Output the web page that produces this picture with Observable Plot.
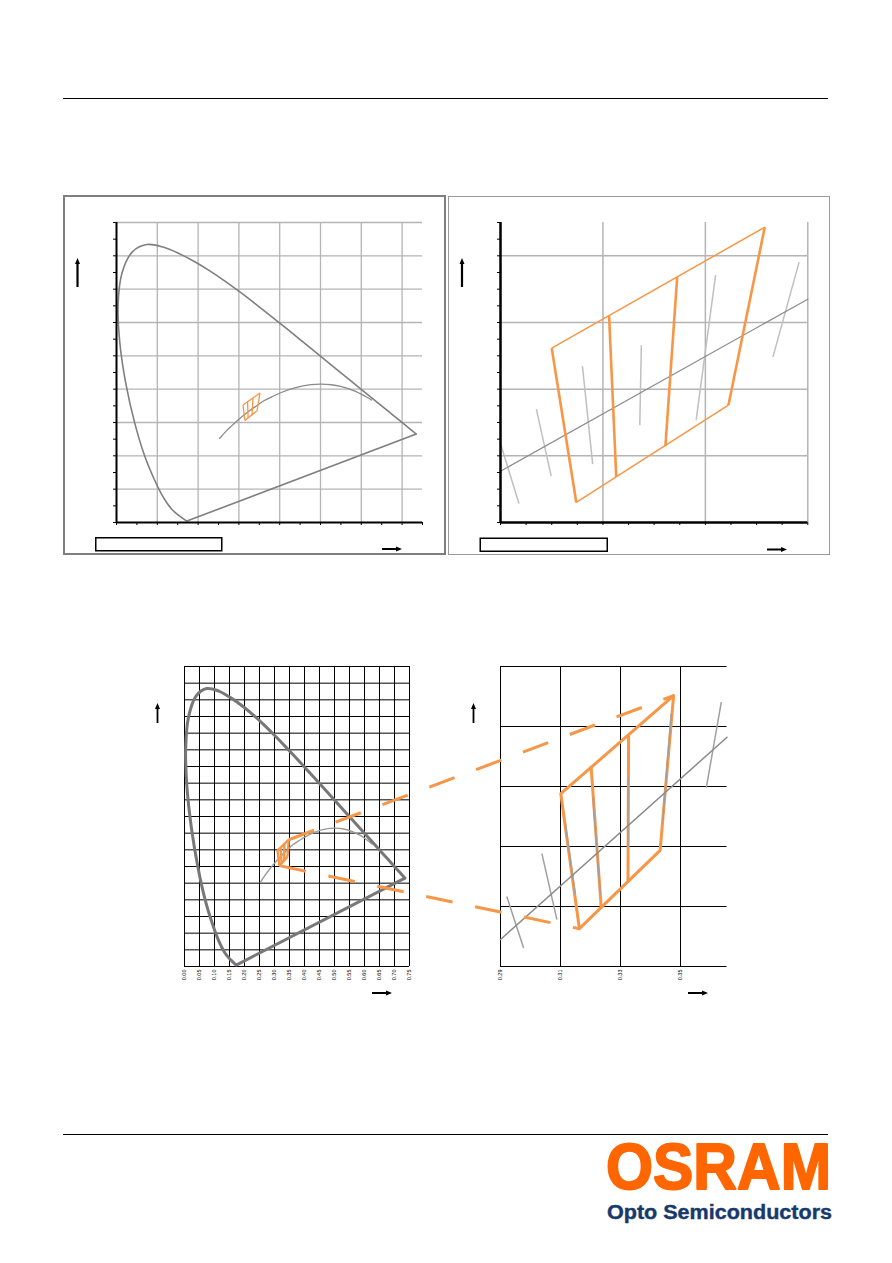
<!DOCTYPE html>
<html><head><meta charset="utf-8">
<script src="https://cdn.jsdelivr.net/npm/d3@7"></script>
<script src="https://cdn.jsdelivr.net/npm/@observablehq/plot@0.6"></script>
<style>
html,body{margin:0;padding:0;background:#fff;}
#page{position:relative;width:892px;height:1263px;overflow:hidden;background:#fff;font-family:"Liberation Sans",Arial,sans-serif;}
#page svg{overflow:visible;}
</style></head><body><div id="page"></div>
<script>
// ---------- DATA ----------
// CIE 1931 spectral locus, 380 ... 700 nm
const locusX = [0.1741,0.1733,0.1714,0.1689,0.1644,0.1566,0.1510,0.1440,0.1355,0.1241,0.1096,0.0913,0.0687,0.0454,0.0235,0.0082,0.0039,0.0139,0.0389,0.0743,0.1142,0.1547,0.1929,0.2296,0.2658,0.3016,0.3373,0.3731,0.4087,0.4441,0.4788,0.5125,0.5448,0.5752,0.6029,0.6270,0.6482,0.6658,0.6915,0.7079,0.7190,0.7260,0.7300,0.7334,0.7347];
const locusY = [0.0050,0.0048,0.0051,0.0069,0.0109,0.0177,0.0227,0.0297,0.0399,0.0578,0.0868,0.1327,0.2007,0.2950,0.4127,0.5384,0.6548,0.7502,0.8120,0.8338,0.8262,0.8059,0.7816,0.7543,0.7243,0.6923,0.6589,0.6245,0.5896,0.5547,0.5202,0.4866,0.4544,0.4242,0.3965,0.3725,0.3514,0.3340,0.3083,0.2920,0.2809,0.2740,0.2700,0.2666,0.2653];
// Planckian locus 25000 K ... 1200 K
const planckX = [0.2526,0.2565,0.2637,0.2719,0.2807,0.2952,0.3064,0.3221,0.3451,0.3611,0.3805,0.4053,0.4369,0.4770,0.5020,0.5267,0.5497,0.5729,0.5857,0.5985,0.6117,0.6251];
const planckY = [0.2522,0.2574,0.2673,0.2779,0.2883,0.3048,0.3166,0.3318,0.3516,0.3651,0.3768,0.3907,0.4041,0.4137,0.4152,0.4133,0.4081,0.3993,0.3931,0.3858,0.3773,0.3674];

// Top detail: colour bins (corners TL, TR, BR, BL) and dividers (top -> bottom)
const binTopCornerX = [0.3100,0.3516,0.3445,0.3148];
const binTopCornerY = [0.3523,0.3886,0.3352,0.3060];
const binTopDivX1 = [0.3212,0.3345], binTopDivY1 = [0.3620,0.3736];
const binTopDivX2 = [0.3226,0.3322], binTopDivY2 = [0.3137,0.3229];
const planckTopX = [0.30,0.36], planckTopY = [0.3154,0.3670];
const isoTopX1 = [0.3000,0.3070,0.3160,0.3275,0.3420,0.3583];
const isoTopY1 = [0.3237,0.3340,0.3469,0.3532,0.3742,0.3781];
const isoTopX2 = [0.3036,0.3099,0.3180,0.3272,0.3382,0.3532];
const isoTopY2 = [0.3057,0.3139,0.3175,0.3292,0.3307,0.3497];

// Bottom detail: colour bins
const binBotCornerX = [0.3101,0.3477,0.3432,0.3163];
const binBotCornerY = [0.3476,0.3803,0.3287,0.3026];
const binBotDivX1 = [0.3202,0.3327], binBotDivY1 = [0.3567,0.3670];
const binBotDivX2 = [0.3236,0.3325], binBotDivY2 = [0.3094,0.3181];
const planckBotX = [0.29,0.3655], planckBotY = [0.2990,0.3664];
const isoBotX1 = [0.2921,0.3038,0.3116,0.3208,0.3325,0.3469,0.3636];
const isoBotY1 = [0.3133,0.3276,0.3376,0.3464,0.3531,0.3742,0.3781];
const isoBotX2 = [0.2977,0.3088,0.3149,0.3233,0.3325,0.3441,0.3586];
const isoBotY2 = [0.2962,0.3056,0.3142,0.3142,0.3298,0.3387,0.3496];

// ticks / grids
const ticks1X = [0,0.05,0.1,0.15,0.2,0.25,0.3,0.35,0.4,0.45,0.5,0.55,0.6,0.65,0.7,0.75];
const ticks1Y = [0,0.05,0.1,0.15,0.2,0.25,0.3,0.35,0.4,0.45,0.5,0.55,0.6,0.65,0.7,0.75,0.8,0.85,0.9];
const grid1X = [0.1,0.2,0.3,0.4,0.5,0.6,0.7];
const grid1Y = [0.1,0.2,0.3,0.4,0.5,0.6,0.7,0.8,0.9];
const ticks2X = [0.300,0.305,0.310,0.315,0.320,0.325,0.330,0.335,0.340,0.345,0.350,0.355,0.360];
const ticks2Y = [0.300,0.305,0.310,0.315,0.320,0.325,0.330,0.335,0.340,0.345,0.350,0.355,0.360,0.365,0.370,0.375,0.380,0.385,0.390];
const grid2X = [0.32,0.34,0.36];
const grid2Y = [0.32,0.34,0.36,0.38];
const ticks3X = ticks1X;
const labels3X = ["0.00","0.05","0.10","0.15","0.20","0.25","0.30","0.35","0.40","0.45","0.50","0.55","0.60","0.65","0.70","0.75"];
const grid3Y = ticks1Y;
const ticks4X = [0.29,0.31,0.33,0.35];
const labels4X = ["0.29","0.31","0.33","0.35"];
const grid4Y = [0.29,0.31,0.33,0.35,0.37,0.39];

// ---------- HELPERS ----------
const ORANGE = "#f79646";
const page = document.getElementById("page");
const zip = (xs, ys) => xs.map((x, i) => ({x, y: ys[i]}));
const segs = (x1, y1, x2, y2) => x1.map((v, i) => ({x1: v, y1: y1[i], x2: x2[i], y2: y2[i]}));
function binParts(cx, cy, dx1, dy1, dx2, dy2) {
  const steep = [
    {x1: cx[0], y1: cy[0], x2: cx[3], y2: cy[3]},
    {x1: cx[1], y1: cy[1], x2: cx[2], y2: cy[2]},
    ...segs(dx1, dy1, dx2, dy2)
  ];
  const flat = [
    {x1: cx[0], y1: cy[0], x2: cx[1], y2: cy[1]},
    {x1: cx[3], y1: cy[3], x2: cx[2], y2: cy[2]}
  ];
  return {steep, flat, outline: zip([...cx, cx[0]], [...cy, cy[0]])};
}
function place(el, left, top) {
  const d = document.createElement("div");
  d.style.position = "absolute"; d.style.left = left + "px"; d.style.top = top + "px";
  d.appendChild(el); page.appendChild(d);
}
const locus = zip(locusX, locusY);
const purple = [{x1: locusX[0], y1: locusY[0], x2: locusX[locusX.length-1], y2: locusY[locusY.length-1]}];
const planck = zip(planckX, planckY);
const binsTop = binParts(binTopCornerX, binTopCornerY, binTopDivX1, binTopDivY1, binTopDivX2, binTopDivY2);
const binsBot = binParts(binBotCornerX, binBotCornerY, binBotDivX1, binBotDivY1, binBotDivX2, binBotDivY2);
const noLabel = () => "";

// ---------- DECORATION ----------
function upArrow(x, yb, yt, w) {
  return `<line x1="${x}" y1="${yb}" x2="${x}" y2="${yt+5}" stroke="#000" stroke-width="${w}"/>
  <polygon points="${x-2.5},${yt+6} ${x+2.5},${yt+6} ${x},${yt}" fill="#000"/>`;
}
function rightArrow(xl, xr, y, w) {
  return `<line x1="${xl}" y1="${y}" x2="${xr-5}" y2="${y}" stroke="#000" stroke-width="${w}"/>
  <polygon points="${xr-6},${y-2.5} ${xr-6},${y+2.5} ${xr},${y}" fill="#000"/>`;
}
const deco = document.createElementNS("http://www.w3.org/2000/svg", "svg");
deco.setAttribute("width", 892); deco.setAttribute("height", 1263);
deco.style.position = "absolute"; deco.style.left = "0"; deco.style.top = "0";
deco.innerHTML = `
<line x1="63" y1="98.5" x2="828" y2="98.5" stroke="#000" stroke-width="1"/>
<line x1="63" y1="1134.5" x2="828" y2="1134.5" stroke="#000" stroke-width="1"/>
<rect x="64" y="196" width="381" height="358" fill="none" stroke="#7f7f7f" stroke-width="2"/>
<rect x="448.5" y="196.5" width="381" height="358" fill="none" stroke="#9a9a9a" stroke-width="1"/>
<rect x="95.75" y="537.75" width="126" height="13" fill="none" stroke="#000" stroke-width="1.5"/>
<rect x="480.25" y="538.25" width="127" height="13" fill="none" stroke="#000" stroke-width="1.5"/>
${upArrow(77.5, 287, 258, 2.2)}
${rightArrow(382, 402, 549, 2)}
${upArrow(462, 287, 258, 2.2)}
${rightArrow(767, 787, 549.5, 2)}
${upArrow(157.5, 723, 703, 1.8)}
${rightArrow(372, 392, 993, 2)}
${upArrow(473.5, 723, 703, 1.8)}
${rightArrow(688, 708, 993, 2)}
<text x="606" y="1188.5" font-family="Liberation Sans, Arial, sans-serif" font-weight="bold" font-size="65" fill="#ff6600" stroke="#ff6600" stroke-width="2" stroke-linejoin="round" textLength="225" lengthAdjust="spacingAndGlyphs">OSRAM</text>
<text x="607" y="1219" font-family="Liberation Sans, Arial, sans-serif" font-weight="bold" font-size="20" fill="#17396b" stroke="#17396b" stroke-width="0.4" textLength="225" lengthAdjust="spacingAndGlyphs">Opto Semiconductors</text>
`;
page.appendChild(deco);

// ---------- CHART 1: full CIE diagram (top left) ----------
const c1 = Plot.plot({
  width: 336, height: 320, marginLeft: 20, marginRight: 10, marginTop: 10, marginBottom: 10,
  style: {background: "transparent", overflow: "visible"},
  x: {domain: [0, 0.75], ticks: ticks1X, tickSize: 3, tickFormat: noLabel, label: null},
  y: {domain: [0, 0.9], ticks: ticks1Y, tickSize: 3, tickFormat: noLabel, label: null},
  marks: [
    Plot.ruleX(grid1X, {y1: 0, y2: 0.9, stroke: "#b4b4b4", strokeWidth: 1.3}),
    Plot.ruleY(grid1Y, {x1: 0, x2: 0.75, stroke: "#b4b4b4", strokeWidth: 1.3}),
    Plot.line(locus, {x: "x", y: "y", stroke: "#7f7f7f", strokeWidth: 1.6, curve: "catmull-rom"}),
    Plot.link(purple, {x1: "x1", y1: "y1", x2: "x2", y2: "y2", stroke: "#7f7f7f", strokeWidth: 1.6}),
    Plot.line(planck, {x: "x", y: "y", stroke: "#8a8a8a", strokeWidth: 1.3, curve: "catmull-rom"}),
    Plot.link(binsTop.steep, {x1: "x1", y1: "y1", x2: "x2", y2: "y2", stroke: ORANGE, strokeWidth: 1.3}),
    Plot.link(binsTop.flat, {x1: "x1", y1: "y1", x2: "x2", y2: "y2", stroke: ORANGE, strokeWidth: 1.3}),
    Plot.ruleX([0], {y1: 0, y2: 0.9, stroke: "#000", strokeWidth: 2}),
    Plot.ruleY([0], {x1: 0, x2: 0.75, stroke: "#000", strokeWidth: 2})
  ]
});
place(c1, 96, 211.7);

// ---------- CHART 2: detail (top right) ----------
const c2 = Plot.plot({
  width: 337.3, height: 320, marginLeft: 20, marginRight: 10, marginTop: 10, marginBottom: 10,
  style: {background: "transparent", overflow: "visible"},
  x: {domain: [0.30, 0.36], ticks: ticks2X, tickSize: 3, tickFormat: noLabel, label: null},
  y: {domain: [0.30, 0.39], ticks: ticks2Y, tickSize: 3, tickFormat: noLabel, label: null},
  marks: [
    Plot.ruleX(grid2X, {y1: 0.30, y2: 0.39, stroke: "#b4b4b4", strokeWidth: 1.5}),
    Plot.ruleY(grid2Y, {x1: 0.30, x2: 0.36, stroke: "#b4b4b4", strokeWidth: 1.5}),
    Plot.link(segs(isoTopX1, isoTopY1, isoTopX2, isoTopY2), {x1: "x1", y1: "y1", x2: "x2", y2: "y2", stroke: "#c0c0c0", strokeWidth: 1.5}),
    Plot.line(zip(planckTopX, planckTopY), {x: "x", y: "y", stroke: "#8c8c8c", strokeWidth: 1.2}),
    Plot.link(binsTop.flat, {x1: "x1", y1: "y1", x2: "x2", y2: "y2", stroke: ORANGE, strokeWidth: 1.5}),
    Plot.link(binsTop.steep, {x1: "x1", y1: "y1", x2: "x2", y2: "y2", stroke: ORANGE, strokeWidth: 2.6}),
    Plot.ruleX([0.30], {y1: 0.30, y2: 0.39, stroke: "#000", strokeWidth: 2.5}),
    Plot.ruleY([0.30], {x1: 0.30, x2: 0.36, stroke: "#000", strokeWidth: 2.5})
  ]
});
place(c2, 480, 212.3);

// ---------- CHART 3: full diagram (bottom left) ----------
const L3 = 164.3, T3 = 656, L4 = 480.3, T4 = 656;
const c3 = Plot.plot({
  width: 255, height: 340, marginLeft: 20, marginRight: 10, marginTop: 10, marginBottom: 30,
  style: {background: "transparent", overflow: "visible", fontSize: "5.5px", fontFamily: "Liberation Sans, Arial, sans-serif"},
  x: {domain: [0, 0.75], ticks: ticks3X, tickSize: 0, tickPadding: 3, tickRotate: -90,
      tickFormat: d => labels3X[ticks3X.indexOf(d)], label: null},
  y: {domain: [0, 0.9], axis: null},
  marks: [
    Plot.ruleX(ticks3X, {y1: 0, y2: 0.9, stroke: "#000", strokeWidth: 1}),
    Plot.ruleY(grid3Y, {x1: 0, x2: 0.75, stroke: "#000", strokeWidth: 1}),
    Plot.line(planck, {x: "x", y: "y", stroke: "#999", strokeWidth: 1.4, curve: "catmull-rom"}),
    Plot.line(locus, {x: "x", y: "y", stroke: "#787878", strokeWidth: 3, curve: "catmull-rom"}),
    Plot.link(purple, {x1: "x1", y1: "y1", x2: "x2", y2: "y2", stroke: "#787878", strokeWidth: 3}),
    Plot.link(binsBot.steep, {x1: "x1", y1: "y1", x2: "x2", y2: "y2", stroke: ORANGE, strokeWidth: 2.4}),
    Plot.link(binsBot.flat, {x1: "x1", y1: "y1", x2: "x2", y2: "y2", stroke: ORANGE, strokeWidth: 2.4})
  ]
});
place(c3, L3, T3);

// ---------- CHART 4: detail (bottom right) with zoom connectors ----------
const xDom4 = [0.29, 0.3655], yDom4 = [0.29, 0.39];
const sx3 = c3.scale("x"), sy3 = c3.scale("y");
const sx4 = d3.scaleLinear().domain(xDom4).range([20, 246.5]);
const sy4 = d3.scaleLinear().domain(yDom4).range([310, 10]);
function to4(x, y) {
  return [sx4.invert(L3 + sx3.apply(x) - L4), sy4.invert(T3 + sy3.apply(y) - T4)];
}
const startTR = to4(binBotCornerX[1], binBotCornerY[1]);
const startBL = to4(binBotCornerX[3], binBotCornerY[3]);
const connectors = [
  {x1: startTR[0], y1: startTR[1], x2: binBotCornerX[1], y2: binBotCornerY[1]},
  {x1: startBL[0], y1: startBL[1], x2: binBotCornerX[3], y2: binBotCornerY[3]}
];
const c4 = Plot.plot({
  width: 256.5, height: 340, marginLeft: 20, marginRight: 10, marginTop: 10, marginBottom: 30,
  style: {background: "transparent", overflow: "visible", fontSize: "5.5px", fontFamily: "Liberation Sans, Arial, sans-serif"},
  x: {domain: xDom4, ticks: ticks4X, tickSize: 0, tickPadding: 3, tickRotate: -90,
      tickFormat: d => labels4X[ticks4X.indexOf(d)], label: null},
  y: {domain: yDom4, axis: null},
  marks: [
    Plot.ruleX(ticks4X, {y1: 0.29, y2: 0.39, stroke: "#000", strokeWidth: 1}),
    Plot.ruleY(grid4Y, {x1: 0.29, x2: 0.3655, stroke: "#000", strokeWidth: 1}),
    Plot.line(binsBot.outline, {x: "x", y: "y", stroke: ORANGE, strokeWidth: 3}),
    Plot.link(segs(binBotDivX1, binBotDivY1, binBotDivX2, binBotDivY2), {x1: "x1", y1: "y1", x2: "x2", y2: "y2", stroke: ORANGE, strokeWidth: 3}),
    Plot.link(segs(isoBotX1, isoBotY1, isoBotX2, isoBotY2), {x1: "x1", y1: "y1", x2: "x2", y2: "y2", stroke: "#a0a0a0", strokeWidth: 1.5}),
    Plot.line(zip(planckBotX, planckBotY), {x: "x", y: "y", stroke: "#8a8a8a", strokeWidth: 1.5}),
    Plot.link(connectors, {x1: "x1", y1: "y1", x2: "x2", y2: "y2", stroke: ORANGE, strokeWidth: 3, strokeDasharray: "27 23"})
  ]
});
place(c4, L4, T4);
</script></body></html>
